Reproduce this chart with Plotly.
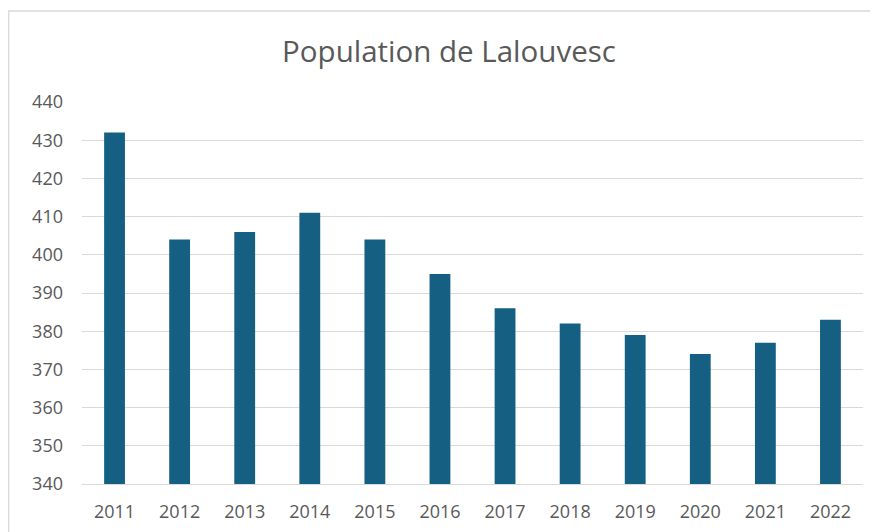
import plotly.graph_objects as go

years = ["2011", "2012", "2013", "2014", "2015", "2016",
         "2017", "2018", "2019", "2020", "2021", "2022"]
population = [432, 404, 406, 411, 404, 395, 386, 382, 379, 374, 377, 383]
y_ticks = [340, 350, 360, 370, 380, 390, 400, 410, 420, 430, 440]

title_text = "Population de Lalouvesc"
bar_color = "#156082"
text_color = "#595959"
grid_color = "#d9d9d9"

fig = go.Figure(
    go.Bar(x=years, y=population, marker_color=bar_color, marker_line_width=0)
)

# page body has an 8px margin; compensate so the chart sits like the reference
OFF = 8
W, H = 878 - OFF, 532 - OFF
L, R, T, B = 82 - OFF, 878 - 863, 102 - OFF, 532 - 484
fig.update_layout(
    width=W, height=H,
    margin=dict(l=L, r=R, t=T, b=B, autoexpand=False),
    paper_bgcolor="white", plot_bgcolor="white",
    bargap=0.68,
    showlegend=False,
    font=dict(family="Open Sans, Noto Sans, sans-serif", color=text_color, size=18),
    title=dict(text=title_text, x=(449 - OFF) / W, xanchor="center",
               y=1 - (52 - OFF) / H, yanchor="middle",
               font=dict(size=29.5, color=text_color)),
)
fig.update_yaxes(range=[340, 440], tickvals=y_ticks, showgrid=True, gridcolor=grid_color,
                 gridwidth=1.3, zeroline=False, showline=False, ticks="", automargin=False,
                 ticklabelstandoff=18, tickfont=dict(size=18, color=text_color))
fig.update_xaxes(showgrid=False, showline=True, linecolor=grid_color, linewidth=1.3,
                 ticks="", automargin=False,
                 ticklabelstandoff=11, tickfont=dict(size=18, color=text_color))

pw, ph = W - L - R, H - T - B
fig.add_shape(type="rect", xref="paper", yref="paper",
              x0=(0.7 - L) / pw, x1=1.3,
              y0=-0.3, y1=1 + (T - (11 - OFF)) / ph,
              line=dict(color="#d9d9d9", width=1.3), layer="below")

fig.write_html("out.html")
